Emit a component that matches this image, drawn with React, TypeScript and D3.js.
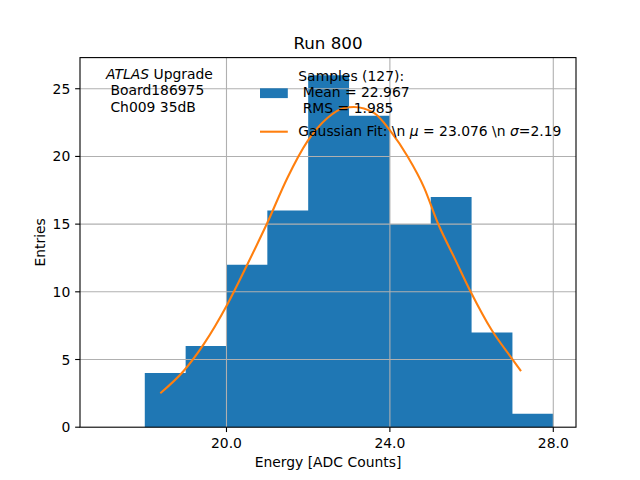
import React from "react";
import * as d3 from "d3";

const binEdges = [18, 19, 20, 21, 22, 23, 24, 25, 26, 27, 28];
const binCounts = [4, 6, 12, 16, 26, 23, 15, 17, 7, 1];

const fitX = [18.38, 18.95, 19.44, 20.02, 20.51, 21.0, 21.49, 21.98, 22.47, 22.88, 23.12, 23.61, 24.02, 24.43, 24.84, 25.17, 25.58, 25.99, 26.48, 26.97, 27.21];
const fitY = [2.51, 4.15, 6.12, 9.07, 12.02, 15.1, 18.41, 21.11, 22.84, 23.58, 23.65, 23.21, 21.85, 20.01, 17.68, 15.1, 12.51, 9.93, 7.23, 5.14, 4.15];

const xTicks = [20, 24, 28];
const yTicks = [0, 5, 10, 15, 20, 25];

const title = "Run 800";
const xLabel = "Energy [ADC Counts]";
const yLabel = "Entries";

const W = 640;
const H = 480;
const L = 80, R = 576, T = 57.6, B = 427.2;
const FONT = "DejaVu Sans";
const FS = 13.9;
const TICK = 4.86;

export default function App() {
  const x = d3.scaleLinear().domain([16.414, 28.556]).range([L, R]);
  const y = d3.scaleLinear().domain([0, 27.3]).range([B, T]);
  const line = d3
    .line<number>()
    .x((_, i) => x(fitX[i]))
    .y((d) => y(d))
    .curve(d3.curveMonotoneX);
  const fitPath = line(fitY) || "";

  const hp = d3.path();
  hp.moveTo(x(binEdges[0]), y(0));
  binCounts.forEach((c, i) => {
    hp.lineTo(x(binEdges[i]), y(c));
    hp.lineTo(x(binEdges[i + 1]), y(c));
  });
  hp.lineTo(x(binEdges[binEdges.length - 1]), y(0));
  hp.closePath();

  return (
    <svg
      width={W}
      height={H}
      style={{ position: "absolute", left: 0, top: 0, background: "white" }}
      fontFamily={FONT}
    >
      <rect x={0} y={0} width={W} height={H} fill="white" />
      {/* bars */}
      <path d={hp.toString()} fill="#1f77b4" />
      {/* grid */}
      {xTicks.map((t) => (
        <line key={"gx" + t} x1={x(t)} x2={x(t)} y1={T} y2={B} stroke="#b0b0b0" strokeWidth={1.1} />
      ))}
      {yTicks.slice(1).map((t) => (
        <line key={"gy" + t} x1={L} x2={R} y1={y(t)} y2={y(t)} stroke="#b0b0b0" strokeWidth={1.1} />
      ))}
      {/* fit curve */}
      <path d={fitPath} fill="none" stroke="#ff7f0e" strokeWidth={2.08} strokeLinecap="butt" />
      {/* frame */}
      <rect x={L} y={T} width={R - L} height={B - T} fill="none" stroke="black" strokeWidth={1.1} />
      {/* ticks */}
      {xTicks.map((t) => (
        <g key={"tx" + t}>
          <line x1={x(t)} x2={x(t)} y1={B} y2={B + TICK} stroke="black" strokeWidth={1.1} />
          <text x={x(t)} y={448} fontSize={FS} textAnchor="middle">
            {t.toFixed(1)}
          </text>
        </g>
      ))}
      {yTicks.map((t) => (
        <g key={"ty" + t}>
          <line x1={L - TICK} x2={L} y1={y(t)} y2={y(t)} stroke="black" strokeWidth={1.1} />
          <text x={L - 2 * TICK} y={y(t)} dy="0.36em" fontSize={FS} textAnchor="end">
            {t}
          </text>
        </g>
      ))}
      {/* labels */}
      <text x={(L + R) / 2} y={467} fontSize={FS} textAnchor="middle">
        {xLabel}
      </text>
      <text
        transform={`translate(44.5,${(T + B) / 2}) rotate(-90)`}
        fontSize={FS}
        textAnchor="middle"
      >
        {yLabel}
      </text>
      <text x={(L + R) / 2} y={49.3} fontSize={16.7} textAnchor="middle">
        {title}
      </text>
      {/* ATLAS text */}
      <text fontSize={FS} style={{ whiteSpace: "pre" }}>
        <tspan x={106} y={78.5}>
          <tspan fontStyle="italic">ATLAS</tspan>
          {" Upgrade"}
        </tspan>
        <tspan x={106} y={95.4}>{" Board186975"}</tspan>
        <tspan x={106} y={112.3}>{" Ch009 35dB"}</tspan>
      </text>
      {/* legend */}
      <rect x={260} y={88.3} width={27.8} height={9.8} fill="#1f77b4" />
      <text fontSize={FS} style={{ whiteSpace: "pre" }}>
        <tspan x={298.3} y={80.8}>{"Samples (127):"}</tspan>
        <tspan x={298.3} y={97}>{" Mean = 22.967"}</tspan>
        <tspan x={298.3} y={113.3}>{" RMS = 1.985"}</tspan>
      </text>
      <line x1={260} x2={287.8} y1={131.7} y2={131.7} stroke="#ff7f0e" strokeWidth={2.08} />
      <text x={298.3} y={136.4} fontSize={FS} style={{ whiteSpace: "pre" }}>
        {"Gaussian Fit: \\n "}
        <tspan fontStyle="italic">μ</tspan>
        {" = 23.076 \\n "}
        <tspan fontStyle="italic">σ</tspan>
        {"=2.19"}
      </text>
    </svg>
  );
}
